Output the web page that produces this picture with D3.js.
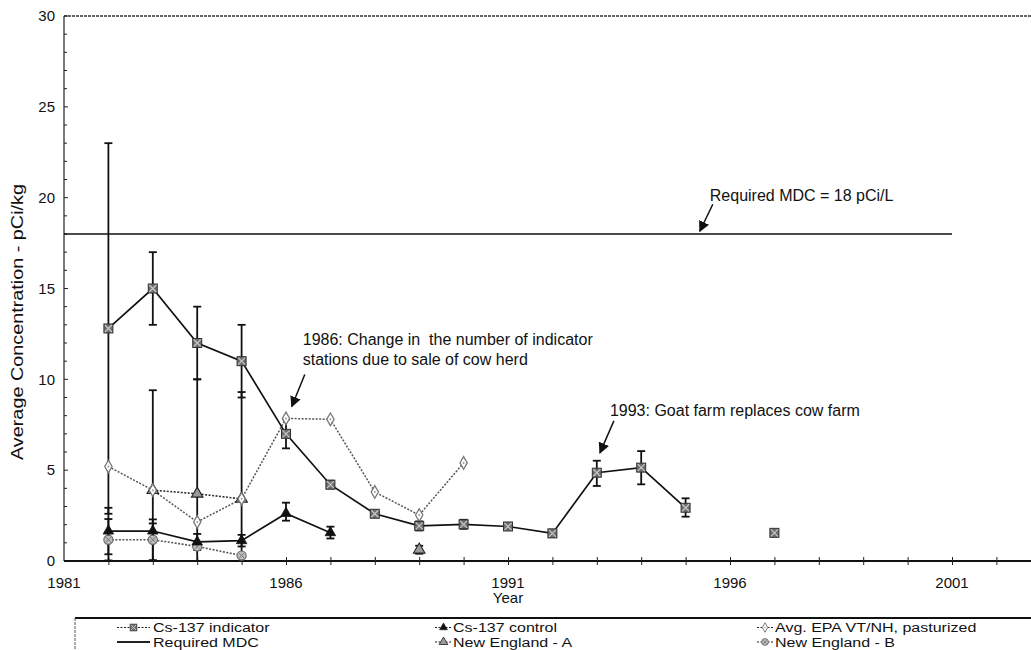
<!DOCTYPE html>
<html><head><meta charset="utf-8">
<script src="https://cdn.jsdelivr.net/npm/d3@7"></script>
<style>
html,body{margin:0;padding:0;background:#fff;}
svg{display:block;font-family:"Liberation Sans",Arial,Helvetica,sans-serif;}
</style></head><body>
<svg id="chart" width="1031" height="650"></svg>
<script>
// Cs-137 in milk, annual averages (pCi/kg) with error limits
const indicatorYears  = [1982,1983,1984,1985,1986,1987,1988,1989,1990,1991,1992,1993,1994,1995,1996,1997];
const indicatorValues = [12.8,15.0,12.0,11.0,7.0,4.2,2.6,1.93,2.02,1.9,1.52,4.86,5.14,2.93,null,1.55];
const indicatorLow    = [2.6,13.0,10.0,9.0,6.2,4.0,2.45,1.68,1.77,1.75,1.32,4.13,4.22,2.44,null,1.42];
const indicatorHigh   = [23.0,17.0,14.0,13.0,7.8,4.42,2.78,2.18,2.27,2.05,1.72,5.52,6.05,3.45,null,1.68];

const controlYears  = [1982,1983,1984,1985,1986,1987];
const controlValues = [1.65,1.65,1.05,1.12,2.62,1.56];
const controlLow    = [0.37,1.23,0.61,0.8,2.22,1.24];
const controlHigh   = [2.93,2.07,1.49,1.44,3.21,1.89];

const epaYears  = [1982,1983,1984,1985,1986,1987,1988,1989,1990];
const epaValues = [5.2,3.9,2.15,3.42,7.85,7.8,3.8,2.53,5.4];

const neAYears  = [1983,1984,1985,1986,1987,1988,1989];
const neAValues = [3.9,3.7,3.42,null,null,null,0.62];
const neALow    = [-1.6,-2.6,-2.4,null,null,null,0.4];
const neAHigh   = [9.4,10.0,9.3,null,null,null,0.84];

const neBYears  = [1982,1983,1984,1985];
const neBValues = [1.17,1.17,0.8,0.3];
const neBLow    = [0.03,0.05,null,null];
const neBHigh   = [2.31,2.29,null,null];

const mdcYears  = [1981,2001];
const mdcValues = [18,18];

const yTicks = [0,5,10,15,20,25,30];
const xTickLabels = [1981,1986,1991,1996,2001];

const svg = d3.select("#chart");
const W = 1031, H = 650;
const plotLeft = 64, plotTop = 16, plotBottom = 561;

const x = d3.scaleLinear().domain([1981, 2003]).range([plotLeft, plotLeft + 22 * 44.4]);
const y = d3.scaleLinear().domain([0, 30]).range([plotBottom, plotTop]);

const zip = (xs, vs) => xs.map((yr, i) => ({yr, v: vs[i]}));
const zipErr = (xs, vs, lo, hi) => xs.map((yr, i) => ({yr, v: vs[i], lo: lo[i], hi: hi[i]}));

const defs = svg.append("defs");
// clip region for the plot
defs.append("clipPath").attr("id", "plotClip")
  .append("rect").attr("x", plotLeft - 6).attr("y", plotTop).attr("width", W - plotLeft + 6).attr("height", plotBottom - plotTop);

// frame: dotted top border, left axis line
svg.append("line").attr("x1", plotLeft).attr("x2", W).attr("y1", plotTop).attr("y2", plotTop)
  .attr("stroke", "#333").attr("stroke-width", 1.3).attr("stroke-dasharray", "3,1");
svg.append("line").attr("x1", plotLeft).attr("x2", plotLeft).attr("y1", plotTop).attr("y2", plotBottom)
  .attr("stroke", "#222").attr("stroke-width", 1.2);

// y ticks every unit, labels every 5
const yMinor = d3.range(0, 31, 1);
svg.append("g").selectAll("line").data(yMinor).join("line")
  .attr("x1", plotLeft).attr("x2", d => plotLeft + (d % 5 === 0 ? 4 : 3))
  .attr("y1", d => y(d)).attr("y2", d => y(d))
  .attr("stroke", "#222").attr("stroke-width", 1);
svg.append("g").selectAll("text").data(yTicks).join("text")
  .attr("x", 55).attr("y", d => y(d)).attr("dy", "0.35em")
  .attr("text-anchor", "end").attr("font-size", 15).attr("fill", "#111")
  .text(d => d);

// x axis
svg.append("line").attr("x1", plotLeft).attr("x2", W).attr("y1", plotBottom).attr("y2", plotBottom)
  .attr("stroke", "#111").attr("stroke-width", 2.2);
const xAxis = d3.axisBottom(x).tickValues(d3.range(1982, 2004)).tickSize(5).tickFormat("");
const gx = svg.append("g").attr("transform", `translate(0,${plotBottom})`).call(xAxis);
gx.select(".domain").remove();
gx.selectAll(".tick line").attr("stroke", "#222").attr("y1", -4).attr("y2", 4);
svg.append("g").selectAll("text").data(xTickLabels).join("text")
  .attr("x", d => x(d)).attr("y", 588).attr("text-anchor", "middle")
  .attr("font-size", 15).attr("fill", "#111").text(d => d);
svg.append("text").attr("x", x(1991)).attr("y", 603).attr("text-anchor", "middle")
  .attr("font-size", 15).attr("fill", "#111").text("Year");
svg.append("text").attr("transform", "translate(23,322) rotate(-90)")
  .attr("text-anchor", "middle").attr("font-size", 16).attr("fill", "#111")
  .attr("textLength", 276).attr("lengthAdjust", "spacingAndGlyphs")
  .text("Average Concentration - pCi/kg");

const plot = svg.append("g").attr("clip-path", "url(#plotClip)");

// required MDC line
const line = d3.line().defined(d => d.v != null).x(d => x(d.yr)).y(d => y(d.v));
plot.append("path").datum(zip(mdcYears, mdcValues)).attr("d", line)
  .attr("fill", "none").attr("stroke", "#111").attr("stroke-width", 1.7);

// error bars
function errorBars(data) {
  const g = plot.append("g").attr("stroke", "#111").attr("stroke-width", 1.8);
  const ok = data.filter(d => d.lo != null && d.hi != null);
  g.selectAll("line.v").data(ok).join("line").attr("class", "v")
    .attr("x1", d => x(d.yr)).attr("x2", d => x(d.yr))
    .attr("y1", d => y(d.lo)).attr("y2", d => y(d.hi));
  ["lo", "hi"].forEach(k => {
    g.selectAll("line." + k).data(ok).join("line").attr("class", k)
      .attr("x1", d => x(d.yr) - 4).attr("x2", d => x(d.yr) + 4)
      .attr("y1", d => y(d[k])).attr("y2", d => y(d[k]));
  });
}
const indData = zipErr(indicatorYears, indicatorValues, indicatorLow, indicatorHigh);
const ctlData = zipErr(controlYears, controlValues, controlLow, controlHigh);
const epaData = zip(epaYears, epaValues);
const neAData = zipErr(neAYears, neAValues, neALow, neAHigh);
const neBData = zipErr(neBYears, neBValues, neBLow, neBHigh);
errorBars(neAData);
errorBars(neBData);
errorBars(ctlData);
errorBars(indData);

// series lines
function seriesLine(data, stroke, width, dash) {
  const p = plot.append("path").datum(data).attr("d", line)
    .attr("fill", "none").attr("stroke", stroke).attr("stroke-width", width);
  if (dash) p.attr("stroke-dasharray", dash);
}
seriesLine(neBData, "#555", 1.6, "2,1.5");
seriesLine(neAData, "#333", 1.6, "2,1.5");
seriesLine(epaData, "#555", 1.5, "2,1.5");
seriesLine(ctlData, "#111", 1.7, null);
seriesLine(indData, "#111", 1.7, null);

// marker painters
const markers = {
  indicator(g) {
    g.append("rect").attr("x", -4.5).attr("y", -4.5).attr("width", 9).attr("height", 9)
      .attr("fill", "#6e6e6e").attr("stroke", "#333").attr("stroke-width", 1);
    g.append("path").attr("d", "M-3.5,-3.5L3.5,3.5M3.5,-3.5L-3.5,3.5")
      .attr("stroke", "#c8c8c8").attr("stroke-width", 1.2);
  },
  control(g) {
    g.append("path").attr("d", d3.symbol(d3.symbolTriangle, 48)())
      .attr("fill", "#111").attr("stroke", "#111").attr("stroke-width", 0.8);
  },
  epa(g) {
    g.append("path").attr("d", d3.symbol(d3.symbolDiamond, 46)())
      .attr("fill", "#fff").attr("stroke", "#777").attr("stroke-width", 1.3);
    g.append("circle").attr("r", 1).attr("fill", "#999");
  },
  neA(g) {
    g.append("path").attr("d", d3.symbol(d3.symbolTriangle, 58)())
      .attr("fill", "#9a9a9a").attr("stroke", "#222").attr("stroke-width", 1.1);
  },
  neB(g) {
    g.append("circle").attr("r", 4.6).attr("fill", "#bdbdbd").attr("stroke", "#666").attr("stroke-width", 1.1);
    g.append("path").attr("d", "M-3,-3L3,3M3,-3L-3,3").attr("stroke", "#777").attr("stroke-width", 1);
  }
};
function drawMarkers(data, kind) {
  plot.append("g").selectAll("g").data(data.filter(d => d.v != null)).join("g")
    .attr("transform", d => `translate(${x(d.yr)},${y(d.v)})`)
    .each(function () { markers[kind](d3.select(this)); });
}
drawMarkers(neBData, "neB");
drawMarkers(neAData, "neA");
drawMarkers(epaData, "epa");
drawMarkers(ctlData, "control");
drawMarkers(indData, "indicator");

// annotations with arrows
defs.append("marker").attr("id", "arrowHead")
  .attr("viewBox", "0 0 10 10").attr("refX", 9).attr("refY", 5)
  .attr("markerWidth", 11).attr("markerHeight", 11).attr("markerUnits", "userSpaceOnUse")
  .attr("orient", "auto")
  .append("path").attr("d", "M0,0L10,5L0,10Z").attr("fill", "#111");

const notes = [
  {lines: ["Required MDC = 18 pCi/L"], tipYear: 1995.32, tipValue: 18.15, tx: 10, ty: -30, ax: 13, ay: -27},
  {lines: ["1986: Change in  the number of indicator", "stations due to sale of cow herd"], tipYear: 1986.13, tipValue: 8.5, tx: 11, ty: -62, ax: 13, ay: -32},
  {lines: ["1993: Goat farm replaces cow farm"], tipYear: 1993.07, tipValue: 5.95, tx: 10, ty: -37, ax: 14, ay: -32}
];
notes.forEach(n => {
  const px = x(n.tipYear), py = y(n.tipValue);
  svg.append("line").attr("x1", px + n.ax).attr("y1", py + n.ay).attr("x2", px).attr("y2", py)
    .attr("stroke", "#111").attr("stroke-width", 1.5).attr("marker-end", "url(#arrowHead)");
  const t = svg.append("text").attr("x", px + n.tx).attr("y", py + n.ty)
    .attr("font-size", 16).attr("fill", "#111");
  n.lines.forEach((s, i) => t.append("tspan").attr("x", px + n.tx).attr("dy", i ? 20 : 0)
    .style("white-space", "pre").text(s));
});

// legend
const legend = svg.append("g");
legend.append("line").attr("x1", 75).attr("x2", W).attr("y1", 618).attr("y2", 618)
  .attr("stroke", "#111").attr("stroke-width", 1.8);
legend.append("line").attr("x1", 75).attr("x2", 75).attr("y1", 618).attr("y2", H)
  .attr("stroke", "#555").attr("stroke-width", 1).attr("stroke-dasharray", "3,1");
const legendItems = [
  {label: "Cs-137 indicator", kind: "indicator", dash: "2,1.5", x0: 117, x1: 150, tx: 153, row: 0},
  {label: "Required MDC", kind: null, dash: null, x0: 117, x1: 150, tx: 153, row: 1},
  {label: "Cs-137 control", kind: "control", dash: "2,1.5", x0: 435, x1: 452, tx: 453, row: 0},
  {label: "New England - A", kind: "neA", dash: "2,1.5", x0: 435, x1: 452, tx: 453, row: 1},
  {label: "Avg. EPA VT/NH, pasturized", kind: "epa", dash: "2,1.5", x0: 757, x1: 773, tx: 775, row: 0},
  {label: "New England - B", kind: "neB", dash: "2,1.5", x0: 757, x1: 773, tx: 775, row: 1}
];
legendItems.forEach(it => {
  const yy = 627.5 + it.row * 14.5;
  const l = legend.append("line").attr("x1", it.x0).attr("x2", it.x1).attr("y1", yy).attr("y2", yy)
    .attr("stroke", "#222").attr("stroke-width", it.kind ? 1.2 : 2);
  if (it.dash) l.attr("stroke-dasharray", it.dash);
  if (it.kind) {
    const g = legend.append("g").attr("transform", `translate(${(it.x0 + it.x1) / 2},${yy}) scale(0.75)`);
    markers[it.kind](g);
  }
  // condensed label: measured at 16px, drawn shorter in height
  const t = legend.append("text").attr("x", it.tx).attr("y", yy).attr("dy", "0.36em")
    .attr("font-size", 16).attr("fill", "#111").text(it.label);
  const w = t.node().getComputedTextLength();
  t.attr("font-size", 12.5).attr("textLength", w).attr("lengthAdjust", "spacingAndGlyphs");
});
</script>
</body></html>
